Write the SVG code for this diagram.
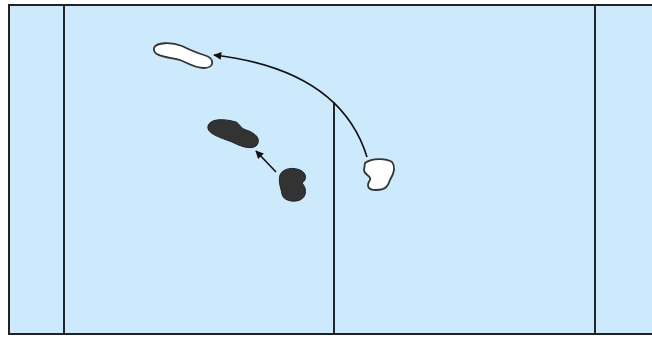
<svg xmlns="http://www.w3.org/2000/svg" width="652" height="341" viewBox="0 0 652 341">
<style>
.frame{fill:#cde9fc;stroke:#222;stroke-width:2}
.line{stroke:#111;stroke-width:1.8;fill:none}
.white{fill:#fff;stroke:#333;stroke-width:1.8}
.dark{fill:#333;stroke:#222;stroke-width:1}
.conn{stroke:#111;stroke-width:1.6;fill:none;marker-end:url(#ah)}
</style>
<defs>
<marker id="ah" viewBox="0 0 10 10" refX="9" refY="5" markerWidth="11" markerHeight="8" markerUnits="userSpaceOnUse" orient="auto">
<path d="M0,0 L10,5 L0,10 Z" fill="#111"/>
</marker>
</defs>
<rect x="0" y="0" width="652" height="341" fill="#fff"/>
<rect class="frame" x="9" y="5" width="650" height="329"/>
<line class="line" x1="64" y1="5" x2="64" y2="334"/>
<line class="line" x1="334" y1="102" x2="334" y2="334"/>
<line class="line" x1="595" y1="5" x2="595" y2="334"/>
<g id="white-top">
<path class="white" d="M154,48 C156,42 172,42 182,46 C188,49 194,52 204,55 C215,58 215,68 204,68 C194,68 188,63 180,60 C170,57 152,57 154,48 Z"/>
</g>
<g id="white-right">
<path class="white" d="M365,163 C372,158 386,158 392,162 C396,167 393,175 390,180 C388,186 386,190 376,190 C368,190 366,186 370,180 C372,176 364,175 364,170 Z"/>
</g>
<g id="dark-top">
<path class="dark" d="M208,126 C210,119 222,118 236,122 C240,124 240,128 246,130 C256,133 262,140 256,146 C250,150 240,146 232,142 C222,138 206,134 208,126 Z"/>
</g>
<g id="dark-bottom">
<path class="dark" d="M280,175 C283,168 293,167 300,170 C307,173 307,180 302,183 C306,187 308,196 300,200 C292,203 283,200 282,194 C281,188 278,182 280,175 Z"/>
</g>
<g id="connectors">
<path class="conn" d="M367,157 Q340,70 214,55"/>
<path class="conn" d="M276,172 L256,151"/>
</g>
</svg>
